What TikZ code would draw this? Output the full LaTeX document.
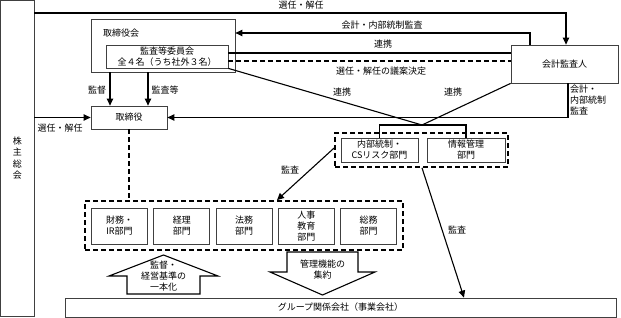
\documentclass[tikz,border=0pt]{standalone}
\usepackage{fontspec}
\setmainfont{Noto Sans CJK JP}
\usetikzlibrary{arrows.meta,calc}
\begin{document}
\begin{tikzpicture}[x=1pt,y=-1pt,
  font=\fontsize{9}{11}\selectfont,
  box/.style={draw=black!75, line width=0.8pt, inner sep=0pt, align=center},
  grp/.style={draw=black, line width=1.8pt, dash pattern=on 5pt off 3pt, inner sep=0pt},
  arr/.style={line width=1.1pt, -{Triangle[length=7pt,width=6.5pt]}},
  ln/.style={line width=1.1pt},
  lbl/.style={inner sep=0pt, align=center},
  blk/.style={draw=black, line width=1.1pt, fill=white},
]
\useasboundingbox (0,0) rectangle (621,318);

% boxes
\node[box, minimum width=33.5pt, minimum height=315.5pt, font=\fontsize{9}{11.5}\selectfont] (sh) at (17.25,158.25) {株\\主\\総\\会};
\node[box, minimum width=144pt, minimum height=53pt] (trb) at (163,45.5) {};
\node[lbl] (trbl) at (121,33) {取締役会};
\node[box, minimum width=122pt, minimum height=23pt] (kan) at (167,56.5) {監査等委員会\\全４名（うち社外３名）};
\node[box, minimum width=107pt, minimum height=38pt] (kai) at (564.5,64) {会計監査人};
\node[box, minimum width=76pt, minimum height=23pt] (tr) at (129,117.5) {取締役};

\node[grp, minimum width=173pt, minimum height=34pt] (ig) at (421.5,150) {};
\node[box, minimum width=77pt, minimum height=24pt] (nb) at (379.5,150) {内部統制・\\CSリスク部門};
\node[box, minimum width=78pt, minimum height=24pt] (jh) at (466,150) {情報管理\\部門};

\node[grp, minimum width=318pt, minimum height=49pt] (bg) at (244,225.5) {};
\node[box, minimum width=56pt, minimum height=36pt] (d1) at (119.5,226) {財務・\\IR部門};
\node[box, minimum width=56pt, minimum height=36pt] (d2) at (181.75,226) {経理\\部門};
\node[box, minimum width=56pt, minimum height=36pt] (d3) at (244,226) {法務\\部門};
\node[box, minimum width=56pt, minimum height=36pt] (d4) at (306.25,226) {人事\\教育\\部門};
\node[box, minimum width=56pt, minimum height=36pt] (d5) at (368.5,226) {総務\\部門};

\node[box, minimum width=551pt, minimum height=19pt] (gr) at (340.5,307.5) {グループ関係会社（事業会社）};

% top: 選任・解任 -> 会計監査人
\draw[arr] (sh.east |- 0,13) -| (kai.north -| 566,0);
\node[lbl] (l1) at (301,5) {選任・解任};

% 会計・内部統制監査 -> 取締役会
\draw[arr] (kai.north -| 530,0) |- (trb.east |- 0,33);
\node[lbl] (l2) at (382,25) {会計・内部統制監査};

% 連携 solid
\draw[ln] (kan.east |- 0,53) -- (kai.west |- 0,53);
\node[lbl] (l3) at (383,44) {連携};

% 選任・解任の議案決定 dashed
\draw[ln, dash pattern=on 5pt off 3pt] (kan.east |- 0,61) -- (kai.west |- 0,61);
\node[lbl] (l4) at (381,71) {選任・解任の議案決定};

% 連携 diagonals to meeting point
\coordinate (m) at (422,125);
\draw[ln] (kan.south east) -- (m);
\draw[ln] (kai.south west) -- (m);
\node[lbl] (l5) at (342,92) {連携};
\node[lbl] (l6) at (453,92) {連携};
\draw[ln] (nb.north) |- (m) -| (jh.north);

% 会計・内部統制監査 -> 取締役
\draw[arr] (kai.south -| 568,0) |- (tr.east);
\node[lbl, anchor=west, align=left] (l7) at (570,100) {会計・\\内部統制\\監査};

% 監督 / 監査等
\draw[arr] (trb.south -| 110,0) -- (tr.north -| 110,0);
\draw[arr] (trb.south -| 148,0) -- (tr.north -| 148,0);
\node[lbl] (l8) at (97,90) {監督};
\node[lbl] (l9) at (165,90) {監査等};

% 選任・解任 -> 取締役
\draw[arr] (sh.east |- tr.west) -- (tr.west);
\node[lbl] (l10) at (60,128) {選任・解任};

% dashed 取締役 -> group
\draw[line width=1.5pt, dash pattern=on 5pt off 3pt] (tr.south) -- (tr.south |- bg.north);

% 監査 arrows
\draw[arr] (ig.west |- 0,148) -- (bg.north -| 277,0);
\node[lbl] (l11) at (290,170) {監査};
\draw[arr] (ig.south -| 422,0) -- (gr.north -| 464,0);
\node[lbl] (l12) at (457,230) {監査};

% block arrows
\draw[blk] (163.5,255) -- (218,276) -- (200,276) -- (200,294) -- (127,294) -- (127,276) -- (109,276) -- cycle;
\node[lbl] (b1) at (163.5,276) {監督・\\経営基準の\\一本化};
\draw[blk] (287,252) -- (358,252) -- (358,272) -- (375,272) -- (322.5,295) -- (270,272) -- (287,272) -- cycle;
\node[lbl] (b2) at (322.5,270) {管理機能の\\集約};
\end{tikzpicture}
\end{document}
